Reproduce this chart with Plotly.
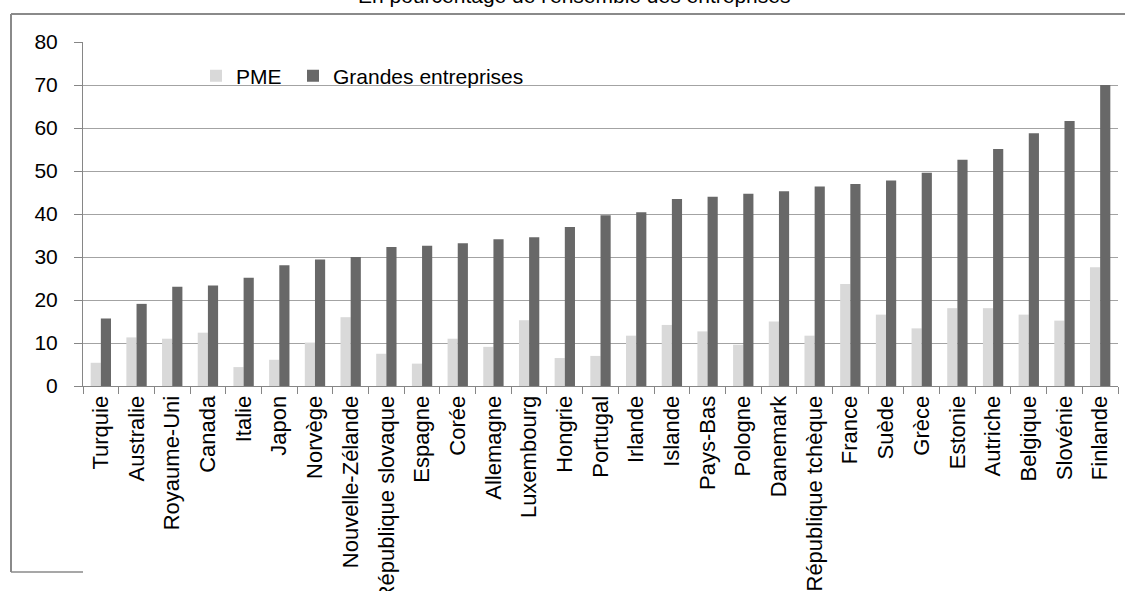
import plotly.graph_objects as go

countries = ["Turquie", "Australie", "Royaume-Uni", "Canada", "Italie", "Japon", "Norvège",
             "Nouvelle-Zélande", "République slovaque", "Espagne", "Corée", "Allemagne",
             "Luxembourg", "Hongrie", "Portugal", "Irlande", "Islande", "Pays-Bas", "Pologne",
             "Danemark", "République tchèque", "France", "Suède", "Grèce", "Estonie",
             "Autriche", "Belgique", "Slovénie", "Finlande"]
pme = [5.4, 11.3, 11.0, 12.4, 4.4, 6.1, 10.1, 16.0, 7.5, 5.2, 11.0, 9.1, 15.3, 6.5, 7.0,
       11.7, 14.2, 12.7, 9.6, 15.0, 11.7, 23.7, 16.6, 13.4, 18.1, 18.1, 16.6, 15.2, 27.6]
grandes = [15.7, 19.1, 23.1, 23.4, 25.2, 28.1, 29.4, 30.0, 32.3, 32.6, 33.2, 34.1, 34.6,
           37.0, 39.7, 40.4, 43.5, 44.0, 44.7, 45.3, 46.4, 47.0, 47.8, 49.6, 52.6, 55.1,
           58.8, 61.6, 70.0]
y_ticks = [0, 10, 20, 30, 40, 50, 60, 70, 80]
title_text = "En pourcentage de l'ensemble des entreprises"

W, H = 1125, 591
L, R, T, B = 83, 7, 42, 205
pw, ph = W - L - R, H - T - B

def px_x(p):
    return (p - L) / pw

def px_y(p):
    return (H - B - p) / ph

FONT = "Liberation Sans, Arial, sans-serif"

fig = go.Figure()
fig.add_trace(go.Bar(name="PME", x=countries, y=pme, marker_color="#d9d9d9",
                     marker_line_width=0, legend="legend"))
fig.add_trace(go.Bar(name="Grandes entreprises", x=countries, y=grandes,
                     marker_color="#686868", marker_line_width=0, legend="legend2"))

frame = "#8a8a8a"
shapes = [
    dict(type="line", xref="paper", yref="paper", x0=px_x(11), x1=px_x(1130),
         y0=px_y(14), y1=px_y(14), line=dict(color=frame, width=2)),
    dict(type="line", xref="paper", yref="paper", x0=px_x(11), x1=px_x(11),
         y0=px_y(14), y1=px_y(572), line=dict(color=frame, width=2)),
    dict(type="line", xref="paper", yref="paper", x0=px_x(11), x1=px_x(83),
         y0=px_y(572), y1=px_y(572), line=dict(color=frame, width=1.5)),
    # white legend background box masking the gridline
    dict(type="rect", xref="paper", yref="paper", x0=px_x(184), x1=px_x(550),
         y0=px_y(92), y1=px_y(60), fillcolor="white", line=dict(width=0), layer="between"),
]

leg_font = dict(family=FONT, size=21, color="#000000")
fig.update_layout(
    width=W, height=H,
    margin=dict(l=L, r=R, t=T, b=B, pad=0, autoexpand=False),
    paper_bgcolor="white", plot_bgcolor="white",
    font=dict(family=FONT, size=21, color="#000000"),
    barmode="group", bargap=0.43, bargroupgap=0,
    showlegend=True,
    legend=dict(orientation="h", x=px_x(196), xanchor="left", y=px_y(76), yanchor="middle",
                bgcolor="rgba(0,0,0,0)", font=leg_font),
    legend2=dict(orientation="h", x=px_x(293), xanchor="left", y=px_y(76), yanchor="middle",
                 bgcolor="rgba(0,0,0,0)", font=leg_font),
    shapes=shapes,
    annotations=[dict(text=title_text, xref="paper", yref="paper", x=px_x(574),
                      y=px_y(-4), xanchor="center", yanchor="middle", showarrow=False,
                      font=dict(family=FONT, size=21, color="#000000"))],
)
fig.update_xaxes(type="category", automargin=False, showline=True, linecolor="#868686",
                 linewidth=1, ticks="outside", tickson="boundaries", ticklen=7,
                 tickcolor="#868686", tickangle=-90,
                 tickfont=dict(family=FONT, size=22, color="#000000"), showgrid=False)
fig.update_yaxes(range=[0, 80], tickvals=y_ticks, automargin=False, showgrid=True,
                 gridcolor="#a3a3a3", gridwidth=1, zeroline=False, showline=True,
                 linecolor="#868686", linewidth=1, ticks="outside", ticklen=8,
                 tickcolor="#868686", ticklabelstandoff=12,
                 tickfont=dict(family=FONT, size=21, color="#000000"))

fig.write_html("out.html", config={"displayModeBar": False},
               post_script="document.body.style.margin='0';")
